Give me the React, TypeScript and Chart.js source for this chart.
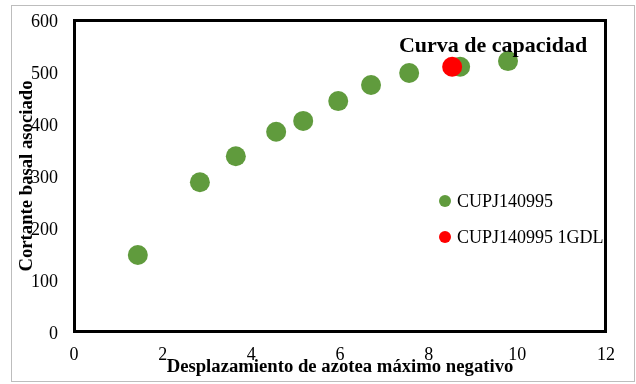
import React, { useEffect, useRef } from "react";
import { Chart, registerables } from "chart.js";

Chart.register(...registerables);

const seriesNames = ["CUPJ140995", "CUPJ140995 1GDL"];
const seriesColors = ["#609B3D", "#FF0000"];
const mainX = [1.44, 2.84, 3.65, 4.56, 5.17, 5.96, 6.7, 7.56, 8.71, 9.79];
const mainY = [148, 288, 338, 385, 406, 444, 475, 498, 510, 521];
const gdlX = [8.53];
const gdlY = [510];
const xTickValues = [0, 2, 4, 6, 8, 10, 12];
const yTickValues = [0, 100, 200, 300, 400, 500, 600];
const chartTitle = "Curva de capacidad";
const xTitle = "Desplazamiento de azotea máximo negativo";
const yTitle = "Cortante basal asociado";

const SERIF = "'Liberation Serif', 'Times New Roman', serif";

const decorPlugin = {
  id: "decor",
  beforeDraw(chart: any) {
    const { ctx, width, height } = chart;
    ctx.save();
    ctx.fillStyle = "#ffffff";
    ctx.fillRect(0, 0, width, height);
    ctx.strokeStyle = "#bdbdbd";
    ctx.lineWidth = 1;
    ctx.strokeRect(11.5, 5.5, width - 13, height - 8);
    ctx.restore();
  },
  beforeDatasetsDraw(chart: any) {
    const { ctx, chartArea } = chart;
    ctx.save();
    ctx.strokeStyle = "#000000";
    ctx.lineWidth = 3;
    ctx.strokeRect(
      chartArea.left + 0.5,
      chartArea.top + 0.5,
      chartArea.right - chartArea.left - 1,
      chartArea.bottom - chartArea.top - 1
    );
    ctx.restore();
  },
  afterDraw(chart: any) {
    const { ctx, chartArea } = chart;
    ctx.save();
    ctx.fillStyle = "#000000";
    ctx.font = `bold 22px ${SERIF}`;
    ctx.textAlign = "center";
    ctx.textBaseline = "alphabetic";
    ctx.fillText(chartTitle, chartArea.left + 419, chartArea.top + 32);
    ctx.font = `18px ${SERIF}`;
    ctx.textAlign = "left";
    ctx.textBaseline = "middle";
    seriesNames.forEach((name, i) => {
      const cx = chartArea.left + 371;
      const cy = chartArea.top + 181 + i * 36;
      ctx.fillStyle = seriesColors[i];
      ctx.beginPath();
      ctx.arc(cx, cy, 6, 0, Math.PI * 2);
      ctx.fill();
      ctx.fillStyle = "#000000";
      ctx.fillText(name, cx + 12, cy + 1);
    });
    ctx.restore();
  },
};

export default function App() {
  const canvasRef = useRef<HTMLCanvasElement | null>(null);

  useEffect(() => {
    const canvas = canvasRef.current;
    if (!canvas) return;
    const chart = new Chart(canvas, {
      type: "scatter",
      data: {
        datasets: [
          {
            label: seriesNames[1],
            data: gdlX.map((x, i) => ({ x, y: gdlY[i] })),
            backgroundColor: seriesColors[1],
            borderWidth: 0,
            pointRadius: 10,
            order: 0,
          },
          {
            label: seriesNames[0],
            data: mainX.map((x, i) => ({ x, y: mainY[i] })),
            backgroundColor: seriesColors[0],
            borderWidth: 0,
            pointRadius: 10,
            order: 1,
          },
        ],
      },
      options: {
        animation: false,
        responsive: false,
        devicePixelRatio: 1,
        layout: { padding: { left: 0, top: 20, right: 30, bottom: 0 } },
        plugins: {
          legend: { display: false },
          title: { display: false },
          tooltip: { enabled: false },
        },
        scales: {
          x: {
            type: "linear",
            min: 0,
            max: 12,
            afterBuildTicks(scale: any) {
              scale.ticks = xTickValues.map((v) => ({ value: v }));
            },
            ticks: {
              color: "#000000",
              font: { family: SERIF, size: 18 },
              padding: 12,
            },
            grid: { display: false, drawTicks: false },
            border: { display: false },
            title: {
              display: true,
              text: xTitle,
              color: "#000000",
              font: { family: SERIF, size: 18.7, weight: "bold" },
              padding: { top: 0, bottom: 6 },
            },
            afterFit(scale: any) {
              scale.height = 52;
              scale.paddingLeft = 0;
              scale.paddingRight = 0;
            },
          },
          y: {
            type: "linear",
            min: 0,
            max: 600,
            afterBuildTicks(scale: any) {
              scale.ticks = yTickValues.map((v) => ({ value: v }));
            },
            ticks: {
              color: "#000000",
              font: { family: SERIF, size: 18 },
              padding: 16,
              labelOffset: 2,
            },
            grid: { display: false, drawTicks: false },
            border: { display: false },
            title: {
              display: true,
              text: yTitle,
              color: "#000000",
              font: { family: SERIF, size: 18.7, weight: "bold" },
              padding: { top: 16, bottom: 0 },
            },
            afterFit(scale: any) {
              scale.width = 74;
              scale.paddingTop = 0;
              scale.paddingBottom = 0;
            },
          },
        },
      },
      plugins: [decorPlugin],
    } as any);
    return () => chart.destroy();
  }, []);

  return (
    <div style={{ position: "fixed", left: 0, top: 0, width: 636, height: 384 }}>
      <canvas
        ref={canvasRef}
        width={636}
        height={384}
        style={{ width: 636, height: 384, display: "block" }}
      />
    </div>
  );
}
